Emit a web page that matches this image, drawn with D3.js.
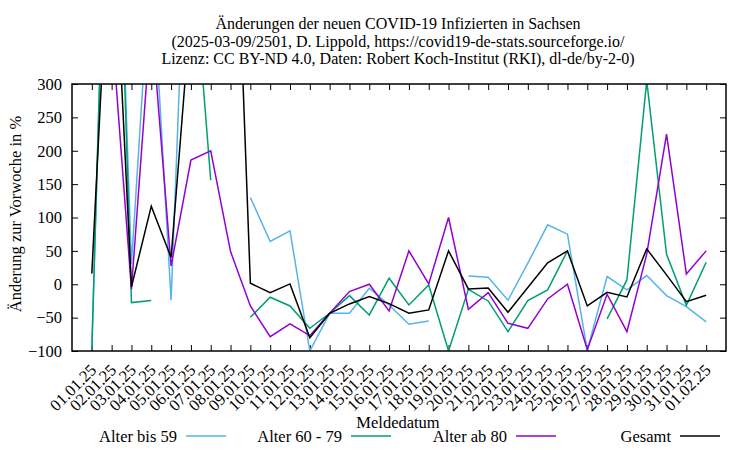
<!DOCTYPE html>
<html>
<head>
<meta charset="utf-8">
<script src="https://cdn.jsdelivr.net/npm/d3@7"></script>
<style>
  html, body { margin: 0; padding: 0; background: #fff; }
  svg { display: block; font-family: "Liberation Serif", "DejaVu Serif", serif; }
</style>
</head>
<body>
<svg id="chart" width="750" height="450"></svg>
<script>
const dates = ["01.01.25","02.01.25","03.01.25","04.01.25","05.01.25","06.01.25","07.01.25","08.01.25",
  "09.01.25","10.01.25","11.01.25","12.01.25","13.01.25","14.01.25","15.01.25","16.01.25",
  "17.01.25","18.01.25","19.01.25","20.01.25","21.01.25","22.01.25","23.01.25","24.01.25",
  "25.01.25","26.01.25","27.01.25","28.01.25","29.01.25","30.01.25","31.01.25","01.02.25"];

const bis59 = [-95, 900, 30, 500, -24, 750, 700, null, 130, 64, 80, -100, -43.5, -43.5, -6, -31,
  -60, -55, null, 12.5, 10.5, -24, 31.5, 89, 75, -99, 11.5, -8.5, 13, -17, -33.5, -56.5];
const von60bis79 = [-100, 940, -27.5, -24.5, null, 532, 156, null, -49.5, -19.5, -32.5, -66, -43.5, -17, -46, 9,
  -31, -1, -100, -7.5, -25, -71, -24.5, -8.5, 50, null, -52, 6.5, 305, 45, -31.5, 33];
const ab80 = [null, 390, -7.5, 400, 27.5, 186, 200, 49, -32.5, -78.5, -59.5, -77, -43.5, -11, 0, -40,
  50, 0.5, 100, -37.5, -12.5, -58.5, -66, -22, 0, -98, -15, -71, 45, 225, 15.5, 50];
const gesamt = [16, 610, -4, 117, 40, 415, 650, 810, 1.5, -12.6, 0.5, -80, -43.5, -29.5, -18.5, -29,
  -43.5, -38.5, 50, -7, -5.5, -42, -5, 32, 50, -32.5, -12, -19, 53, 14, -26, -16.5];

const yTicks = [-100, -50, 0, 50, 100, 150, 200, 250, 300];

const seriesNames = ["Alter bis 59", "Alter 60 - 79", "Alter ab 80", "Gesamt"];
const seriesColors = ["#56b4e9", "#009e73", "#9400d3", "#000000"];
const seriesData = [bis59, von60bis79, ab80, gesamt];

const titleLines = [
  "Änderungen der neuen COVID-19 Infizierten in Sachsen",
  "(2025-03-09/2501, D. Lippold, https://covid19-de-stats.sourceforge.io/",
  "Lizenz: CC BY-ND 4.0, Daten: Robert Koch-Institut (RKI), dl-de/by-2-0)"
];

const FS = 16.5;
const L = 72, R = 726, T = 84, B = 351;
const svg = d3.select("#chart");
svg.append("rect").attr("width", 750).attr("height", 450).attr("fill", "#fff");

const x = d3.scaleLinear().domain([-1, 32]).range([L, R]);
const y = d3.scaleLinear().domain([-100, 300]).range([B, T]);
const idx = d3.range(dates.length);

// title
svg.append("g").selectAll("text").data(titleLines).join("text")
  .attr("x", 398).attr("y", (d, i) => 29 + i * 17.5)
  .attr("text-anchor", "middle").attr("font-size", 16).text(d => d);

// clip
svg.append("clipPath").attr("id", "clip").append("rect")
  .attr("x", L).attr("y", T).attr("width", R - L).attr("height", B - T);

// axes
const axB = svg.append("g").attr("transform", `translate(0,${B})`)
  .call(d3.axisBottom(x).tickValues(idx).tickSize(-6).tickFormat(i => dates[i]));
axB.selectAll("text")
  .attr("font-size", FS).attr("font-family", "Liberation Serif")
  .attr("fill", "#000")
  .attr("text-anchor", "end")
  .attr("y", 0).attr("dy", "0.35em")
  .attr("transform", "translate(1,16) rotate(-45)");
const axT = svg.append("g").attr("transform", `translate(0,${T})`)
  .call(d3.axisTop(x).tickValues(idx).tickSize(-6).tickFormat(""));
const axL = svg.append("g").attr("transform", `translate(${L},0)`)
  .call(d3.axisLeft(y).tickValues(yTicks).tickSize(-6).tickPadding(10).tickFormat(d3.format("d")));
axL.selectAll("text").attr("font-size", FS).attr("font-family", "Liberation Serif").attr("fill", "#000");
const axR = svg.append("g").attr("transform", `translate(${R},0)`)
  .call(d3.axisRight(y).tickValues(yTicks).tickSize(-6).tickFormat(""));
[axB, axT, axL, axR].forEach(a => {
  a.select(".domain").remove();
  a.selectAll("line").attr("stroke", "#000").attr("stroke-width", 1);
});

// lines
const line = d3.line()
  .defined(d => d[1] !== null)
  .x(d => x(d[0])).y(d => y(d[1]));
const g = svg.append("g").attr("clip-path", "url(#clip)");
seriesData.forEach((s, k) => {
  g.append("path")
    .datum(s.map((v, i) => [i, v]))
    .attr("fill", "none")
    .attr("stroke", seriesColors[k])
    .attr("stroke-width", 1.5)
    .attr("stroke-linejoin", "miter")
    .attr("d", line);
});

// border
svg.append("rect").attr("x", L).attr("y", T).attr("width", R - L).attr("height", B - T)
  .attr("fill", "none").attr("stroke", "#000").attr("stroke-width", 1.5);

// y label
svg.append("text")
  .attr("transform", `translate(21,214) rotate(-90)`)
  .attr("text-anchor", "middle").attr("font-size", FS)
  .text("Änderung zur Vorwoche in %");

// x label
svg.append("text").attr("x", 398).attr("y", 428)
  .attr("text-anchor", "middle").attr("font-size", FS).text("Meldedatum");

// legend
const legTextX = [177, 342, 507, 671];
const legLineX = [[186, 226], [351, 391], [516, 556], [680, 720]];
seriesNames.forEach((n, k) => {
  svg.append("text").attr("x", legTextX[k]).attr("y", 442)
    .attr("text-anchor", "end").attr("font-size", FS).text(n);
  svg.append("line")
    .attr("x1", legLineX[k][0]).attr("x2", legLineX[k][1])
    .attr("y1", 436).attr("y2", 436)
    .attr("stroke", seriesColors[k]).attr("stroke-width", 1.5);
});
</script>
</body>
</html>
